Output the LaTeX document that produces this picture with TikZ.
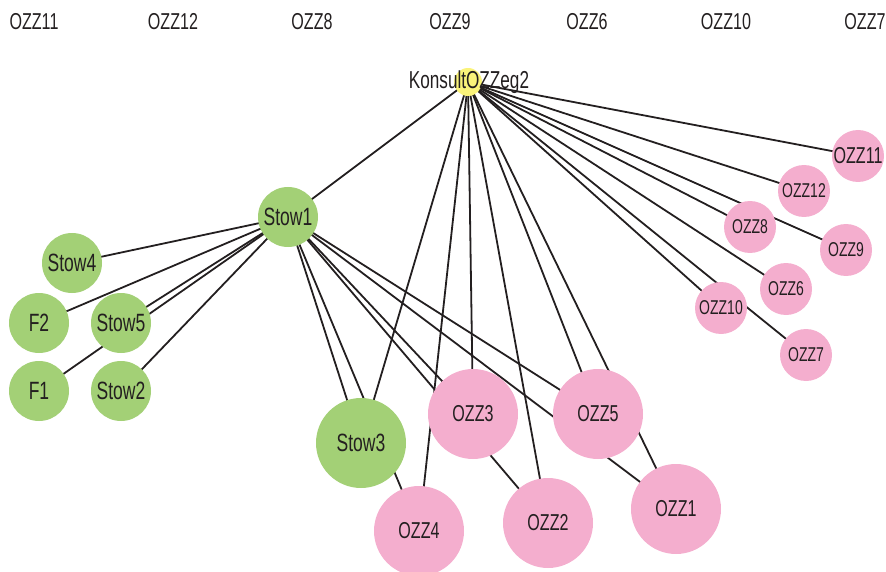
\documentclass[tikz,border=0pt]{standalone}
\usepackage{fontspec}
\setmainfont{Liberation Sans}[FakeStretch=0.7]
\usetikzlibrary{backgrounds}
\definecolor{leaf}{RGB}{163,208,118}
\definecolor{blush}{RGB}{244,174,206}
\definecolor{lemon}{RGB}{250,243,122}
\definecolor{ink}{RGB}{35,31,32}

\begin{document}
\begin{tikzpicture}[x=1pt,y=-1pt]
  \tikzstyle{every node}=[text=ink,inner sep=0pt]
  \tikzstyle{stow}=[circle,fill=leaf,minimum size=60pt,font=\fontsize{25}{25}\selectfont]
  \tikzstyle{bigozz}=[circle,fill=blush,minimum size=90pt,font=\fontsize{23}{23}\selectfont]
  \tikzstyle{smallozz}=[circle,fill=blush,minimum size=52pt,font=\fontsize{20}{20}\selectfont]
  \tikzstyle{hub}=[circle,fill=lemon,minimum size=28pt]
  \tikzstyle{tag}=[font=\fontsize{23}{23}\selectfont]
  \tikzstyle{link}=[draw=ink,line width=1.8pt]

  \useasboundingbox (0,0) rectangle (886,572);

  % top row
  \node[tag] (t11) at (34,22)  {OZZ11};
  \node[tag] (t12) at (173,22) {OZZ12};
  \node[tag] (t8)  at (312,22) {OZZ8};
  \node[tag] (t9)  at (450,22) {OZZ9};
  \node[tag] (t6)  at (587,22) {OZZ6};
  \node[tag] (t10) at (726,22) {OZZ10};
  \node[tag] (t7)  at (865,22) {OZZ7};

  \node[hub]      (k)   at (468,82)  {};
  \node[stow]     (s1)  at (288,217) {Stow1};
  \node[stow]     (s4)  at (72,263)  {Stow4};
  \node[stow]     (f2)  at (39,323)  {F2};
  \node[stow]     (s5)  at (121,323) {Stow5};
  \node[stow]     (f1)  at (39,391)  {F1};
  \node[stow]     (s2)  at (121,391) {Stow2};
  \node[stow, minimum size=90pt] (s3) at (361,443) {Stow3};
  \node[bigozz]   (o3)  at (473,414) {OZZ3};
  \node[bigozz]   (o5)  at (598,414) {OZZ5};
  \node[bigozz]   (o4)  at (419,531) {OZZ4};
  \node[bigozz]   (o2)  at (548,523) {OZZ2};
  \node[bigozz]   (o1)  at (676,509) {OZZ1};
  \node[smallozz] (o11) at (858,156) {\fontsize{23}{23}\selectfont OZZ11};
  \node[smallozz] (o12) at (804,191) {OZZ12};
  \node[smallozz] (o8)  at (750,227) {OZZ8};
  \node[smallozz] (o9)  at (846,250) {OZZ9};
  \node[smallozz] (o6)  at (786,289) {OZZ6};
  \node[smallozz] (o10) at (721,308) {OZZ10};
  \node[smallozz] (o7)  at (806,355) {OZZ7};
  \node[tag, font=\fontsize{24.5}{24.5}\selectfont] (klab) at (469,82) {KonsultOZZeg2};

  \begin{pgfonlayer}{background}
    \foreach \to in {s1,s3,o4,o3,o2,o5,o1,o11,o12,o8,o9,o6,o10,o7}
      \path[link] (k.center) -- (\to.center);
    \foreach \to in {s4,f2,s5,f1,s2,s3,o4,o3,o2,o5,o1}
      \path[link] (s1.center) -- (\to.center);
  \end{pgfonlayer}
\end{tikzpicture}
\end{document}
